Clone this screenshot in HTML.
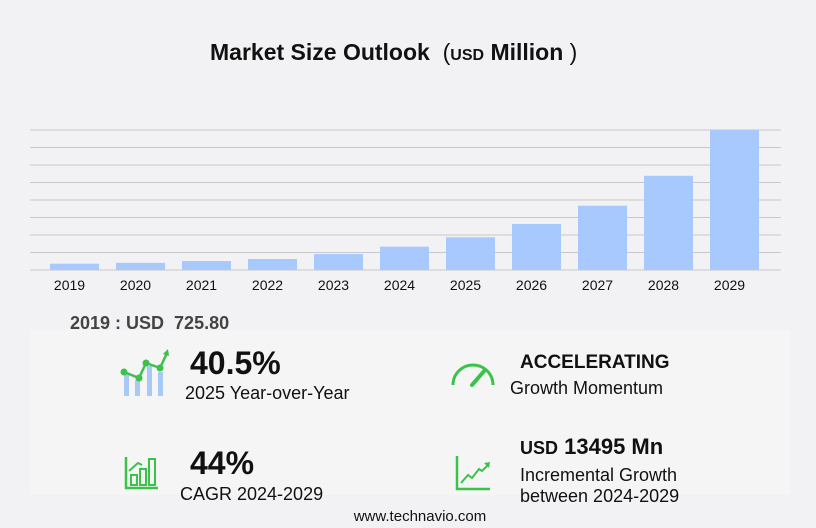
<!DOCTYPE html>
<html><head><meta charset="utf-8"><style>
body{margin:0;width:816px;height:528px;background:#f2f2f4;font-family:"Liberation Sans","DejaVu Sans",sans-serif;overflow:hidden;position:relative}
.t{position:absolute;white-space:nowrap;color:#111}
</style></head><body>
<div class="t" style="left:210px;top:39px;font-size:23px;font-weight:bold">Market Size Outlook&nbsp; <span style="font-weight:normal">(</span><span style="font-size:16px">USD</span> Million <span style="font-weight:normal">)</span></div>
<svg id="ch" width="816" height="300" style="position:absolute;left:0;top:0"></svg>
<div style="position:absolute;left:30px;top:330px;width:760px;height:165px;background:#f5f5f6"></div>
<div class="t" style="left:70px;top:313px;font-size:18px;font-weight:bold;color:#444">2019 : USD&nbsp; 725.80</div>
<svg style="position:absolute;left:118px;top:348px" width="52" height="50">
<rect x="6" y="26" width="5" height="22" fill="#a8c8f8"/><rect x="17" y="32" width="5" height="16" fill="#a8c8f8"/><rect x="29" y="18" width="5" height="30" fill="#a8c8f8"/><rect x="40" y="24" width="5" height="24" fill="#a8c8f8"/>
<polyline points="6,24 21,30 28,15 42,20 49,5" fill="none" stroke="#3cc24a" stroke-width="2.5"/>
<circle cx="6" cy="24" r="3.5" fill="#3cc24a"/><circle cx="21" cy="30" r="3.5" fill="#3cc24a"/><circle cx="28" cy="15" r="3.5" fill="#3cc24a"/><circle cx="42" cy="20" r="3.5" fill="#3cc24a"/><path d="M45,6 L50,1 L51,8Z" fill="#3cc24a"/></svg>
<div class="t" style="left:190px;top:345px;font-size:32px;font-weight:bold">40.5%</div>
<div class="t" style="left:185px;top:383px;font-size:18px">2025 Year-over-Year</div>
<svg style="position:absolute;left:450px;top:358px" width="46" height="30">
<path d="M3,27 A20,20 0 0 1 43,27" fill="none" stroke="#3cc24a" stroke-width="3"/>
<line x1="22" y1="27" x2="35" y2="12" stroke="#3cc24a" stroke-width="4" stroke-linecap="round"/></svg>
<div class="t" style="left:520px;top:352px;font-size:19px;font-weight:bold">ACCELERATING</div>
<div class="t" style="left:510px;top:378px;font-size:18px">Growth Momentum</div>
<svg style="position:absolute;left:124px;top:455px" width="36" height="36">
<path d="M2,2 V33 H34" fill="none" stroke="#3cc24a" stroke-width="2.5"/>
<rect x="7" y="20" width="6" height="10" fill="none" stroke="#3cc24a" stroke-width="2"/><rect x="16" y="14" width="6" height="16" fill="none" stroke="#3cc24a" stroke-width="2"/><rect x="25" y="4" width="6" height="26" fill="none" stroke="#3cc24a" stroke-width="2"/>
<polyline points="5,16 14,8 18,10" fill="none" stroke="#3cc24a" stroke-width="2"/></svg>
<div class="t" style="left:190px;top:445px;font-size:32px;font-weight:bold">44%</div>
<div class="t" style="left:180px;top:484px;font-size:18px">CAGR 2024-2029</div>
<svg style="position:absolute;left:454px;top:455px" width="38" height="36">
<path d="M3,1 V34 H36" fill="none" stroke="#3cc24a" stroke-width="2.5"/>
<polyline points="7,28 14,20 18,23 25,14 28,16 34,10" fill="none" stroke="#3cc24a" stroke-width="2"/><path d="M30,8 L36,7 L35,13Z" fill="#3cc24a"/></svg>
<div class="t" style="left:520px;top:434px;font-size:22px;font-weight:bold"><span style="font-size:18px">USD</span> 13495 Mn</div>
<div class="t" style="left:520px;top:465px;font-size:18px;line-height:21px">Incremental Growth<br>between 2024-2029</div>
<div class="t" style="left:0;width:840px;text-align:center;top:508px;font-size:15px">www.technavio.com</div>
<script>
const years=["2019","2020","2021","2022","2023","2024","2025","2026","2027","2028","2029"];
const values=[726,830,1040,1270,1850,2700,3790,5330,7440,10900,16200];
const maxV=16200;
const svg=document.getElementById('ch');const NS='http://www.w3.org/2000/svg';
const base=270,top0=130,x0=50,pitch=66,bw=49;
function y(v){return base-(v/maxV)*(base-top0);}
for(let i=0;i<=8;i++){const gy=base-i*(base-top0)/8;const l=document.createElementNS(NS,'line');


l.setAttribute('x1',30);l.setAttribute('x2',781);l.setAttribute('y1',gy);l.setAttribute('y2',gy);l.setAttribute('stroke','#c8c8cc');l.setAttribute('stroke-width','1');svg.appendChild(l);}
years.forEach((yr,i)=>{const r=document.createElementNS(NS,'rect');


const x=x0+i*pitch;r.setAttribute('x',x);r.setAttribute('y',y(values[i]));r.setAttribute('width',bw);r.setAttribute('height',base-y(values[i]));r.setAttribute('fill','#a8c9fd');svg.appendChild(r);
const t=document.createElementNS(NS,'text');


t.setAttribute('x',x+bw/2-5);t.setAttribute('y',290);t.setAttribute('text-anchor','middle');t.setAttribute('font-size','14');t.setAttribute('fill','#111');t.setAttribute('font-family','Liberation Sans, sans-serif');t.textContent=yr;svg.appendChild(t);});
</script>
</body></html>
